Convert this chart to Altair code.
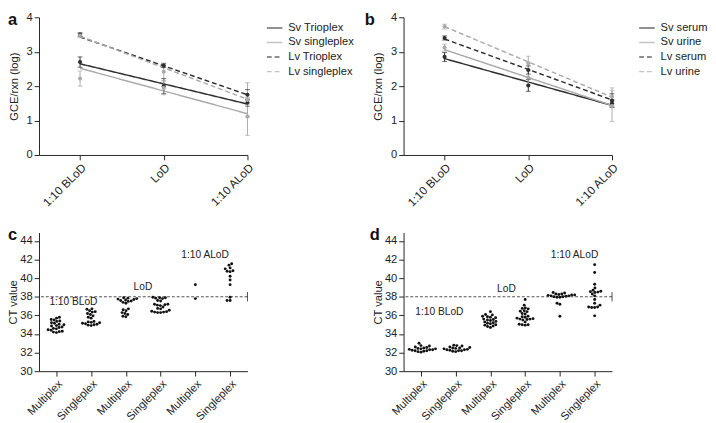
import json
import math
import altair as alt
import pandas as pd

# ---------------- data ----------------
TOP_CATS = ["1:10 BLoD", "LoD", "1:10 ALoD"]
BOT_CATS = ["Multiplex", "Singleplex", "Multiplex", "Singleplex", "Multiplex", "Singleplex"]

DARK = "#2e2e2e"
LIGHT = "#aaaaaa"

# panel a
A_SERIES = ["Sv Trioplex", "Sv singleplex", "Lv Trioplex", "Lv singleplex"]
A_LINE_START = [2.65, 2.52, 3.43, 3.45]
A_LINE_END = [1.48, 1.20, 1.75, 1.62]
A_MEANS = [[2.70, 2.00, 1.52], [2.22, 1.95, 1.12], [3.50, 2.60, 1.75], [3.47, 2.42, 1.60]]
A_ERRS = [[0.15, 0.22, 0.10], [0.22, 0.20, 0.55], [0.05, 0.06, 0.15], [0.06, 0.25, 0.50]]

# panel b
B_SERIES = ["Sv serum", "Sv urine", "Lv serum", "Lv urine"]
B_LINE_START = [2.80, 3.06, 3.37, 3.73]
B_LINE_END = [1.44, 1.44, 1.60, 1.68]
B_MEANS = [[2.85, 2.02, 1.50], [3.12, 2.25, 1.42], [3.40, 2.47, 1.58], [3.73, 2.67, 1.70]]
B_ERRS = [[0.13, 0.17, 0.10], [0.10, 0.20, 0.45], [0.06, 0.12, 0.20], [0.07, 0.20, 0.25]]

SERIES_COLORS = [DARK, LIGHT, DARK, LIGHT]
SERIES_DASH = [[1, 0], [1, 0], [5, 3], [5, 3]]

# panel c (CT values per group)
C_VALUES = [
    [35.8, 35.7, 35.55, 35.5, 35.4, 35.35, 35.2, 35.15, 35.05, 35.0, 34.9, 34.85,
     34.75, 34.7, 34.6, 34.55, 34.45, 34.4, 34.3, 34.25, 34.2, 34.15],
    [36.7, 36.65, 36.5, 36.4, 36.35, 36.2, 36.1, 35.95, 35.8, 35.7, 35.35, 35.3,
     35.2, 35.15, 35.05, 35.0, 34.95, 34.9, 35.1, 35.25],
    [37.9, 37.85, 37.8, 37.75, 37.7, 37.65, 37.6, 37.55, 37.5, 37.4, 37.3,
     36.7, 36.6, 36.5, 36.3, 36.2, 36.1, 35.9, 35.85],
    [37.95, 37.9, 37.9, 37.85, 37.8, 37.6, 37.55, 37.2, 37.2, 37.15, 37.1, 37.05, 36.9,
     36.75, 36.7, 36.55, 36.45, 36.4, 36.35, 36.35, 36.3, 36.3],
    [39.3, 37.8],
    [41.55, 41.4, 41.1, 41.0, 40.8, 40.75, 40.7, 40.2, 39.8, 39.3, 37.95, 37.6, 37.6],
]
# panel d
D_VALUES = [
    [33.0, 32.75, 32.7, 32.6, 32.55, 32.5, 32.45, 32.4, 32.35, 32.3, 32.25, 32.2,
     32.15, 32.1, 32.05, 32.4, 32.3, 32.2],
    [32.8, 32.75, 32.7, 32.6, 32.55, 32.5, 32.45, 32.4, 32.35, 32.3, 32.25, 32.2,
     32.15, 32.1, 32.5, 32.3, 32.2],
    [36.4, 36.1, 36.05, 35.9, 35.85, 35.8, 35.75, 35.6, 35.55, 35.5, 35.45, 35.35, 35.3,
     35.2, 35.15, 35.1, 35.0, 34.95, 34.85, 34.8, 34.7],
    [37.7, 37.1, 36.8, 36.75, 36.7, 36.5, 36.45, 36.4, 36.2, 36.15, 35.9, 35.85, 35.8,
     35.7, 35.65, 35.6, 35.6, 35.55, 35.5, 35.3, 35.05, 35.0, 34.95, 35.0],
    [38.45, 38.4, 38.3, 38.25, 38.2, 38.15, 38.1, 38.05, 38.0, 37.95, 37.95,
     38.0, 38.1, 38.2, 38.3, 37.3, 37.2, 35.9],
    [41.45, 40.6, 39.35, 38.95, 38.7, 38.6, 38.55, 38.5, 38.45, 38.3, 38.1, 37.7, 37.3,
     37.1, 36.9, 36.85, 36.85, 36.9, 35.95],
]
CUTOFF = 38.0
CUTOFF_TICK = [37.5, 38.5]

C_LABELS = ["1:10 BLoD", "LoD", "1:10 ALoD"]
C_LABEL_X = [0.49, 2.49, 4.28]
C_LABEL_Y = [37.4, 39.0, 42.5]
D_LABEL_X = [0.53, 2.46, 4.42]
D_LABEL_Y = [36.3, 38.8, 42.5]

# ---------------- layout constants ----------------
W = 215
H_TOP = 142
H_BOT = 143
FONT = "Liberation Sans"
TXT = "#222222"

top_x_scale = alt.Scale(domain=[-0.49, 2], nice=False, zero=False)
top_y_scale = alt.Scale(domain=[0, 4], nice=False, zero=False)
bot_x_scale = alt.Scale(domain=[-0.5, 5.5], nice=False, zero=False)
bot_y_scale = alt.Scale(domain=[30, 44.9], nice=False, zero=False)

top_x_axis = alt.Axis(values=[0, 1, 2], title=None, labelAngle=-45, labelFlush=False,
                      labelOverlap=False, labelFontSize=12,
                      labelExpr=json.dumps(TOP_CATS) + "[datum.value]")
top_y_axis = alt.Axis(values=[0, 1, 2, 3, 4], title="GCE/rxn (log)", titlePadding=7,
                      labelFlush=False, labelOverlap=False)
bot_x_axis = alt.Axis(values=[0, 1, 2, 3, 4, 5], title=None, labelAngle=-45, labelFlush=False,
                      labelOverlap=False, labelFontSize=11.5,
                      labelExpr=json.dumps(BOT_CATS) + "[datum.value]")
bot_y_axis = alt.Axis(values=list(range(30, 45, 2)), title="CT value", titlePadding=1,
                      labelFlush=False, labelOverlap=False)


def letter(ch, dx, dy):
    return alt.Chart(pd.DataFrame({"t": [ch]})).mark_text(
        fontSize=17, fontWeight="bold", align="left", baseline="top", color="#111", font=FONT
    ).encode(text="t:N", x=alt.value(dx), y=alt.value(dy))


def top_panel(series, ls, le, means, errs, ch, ldx, lgx, lgy):
    lines = []
    for s, a, b in zip(series, ls, le):
        lines.append({"series": s, "x": 0, "y": a})
        lines.append({"series": s, "x": 2, "y": b})
    ldf = pd.DataFrame(lines)
    pts = []
    for s, col, m, e in zip(series, SERIES_COLORS, means, errs):
        for i in range(3):
            pts.append({"series": s, "x": i, "y": m[i], "lo": m[i] - e[i], "hi": m[i] + e[i], "col": col})
    pdf = pd.DataFrame(pts)

    X = lambda f: alt.X(f, scale=top_x_scale, axis=top_x_axis)
    Y = lambda f: alt.Y(f, scale=top_y_scale, axis=top_y_axis)

    line = alt.Chart(ldf).mark_line(strokeWidth=1.5).encode(
        x=X("x:Q"), y=Y("y:Q"),
        color=alt.Color("series:N", scale=alt.Scale(domain=series, range=SERIES_COLORS),
                        legend=alt.Legend(title=None, orient="none", legendX=lgx, legendY=lgy)),
        strokeDash=alt.StrokeDash("series:N", scale=alt.Scale(domain=series, range=SERIES_DASH),
                                  legend=alt.Legend(title=None, orient="none", legendX=lgx, legendY=lgy)),
    )
    bars = alt.Chart(pdf).mark_rule(strokeWidth=1).encode(
        x=X("x:Q"), y=Y("lo:Q"), y2="hi:Q", color=alt.Color("col:N", scale=None))
    cap_hi = alt.Chart(pdf).mark_tick(orient="horizontal", size=5, thickness=1).encode(
        x=X("x:Q"), y=Y("hi:Q"), color=alt.Color("col:N", scale=None))
    cap_lo = alt.Chart(pdf).mark_tick(orient="horizontal", size=5, thickness=1).encode(
        x=X("x:Q"), y=Y("lo:Q"), color=alt.Color("col:N", scale=None))
    dots = alt.Chart(pdf).mark_circle(size=18, opacity=1).encode(
        x=X("x:Q"), y=Y("y:Q"), color=alt.Color("col:N", scale=None))
    return alt.layer(line, bars, cap_hi, cap_lo, dots, letter(ch, ldx, -5)).properties(
        width=W, height=H_TOP)


STEP = W / 6.0
YPX = H_BOT / (44.9 - 30)
DIAM = 3.1


def swarm(vals):
    placed = []
    res = [0.0] * len(vals)
    for i in sorted(range(len(vals)), key=lambda k: vals[k]):
        y = vals[i] * YPX
        near = [(px, py) for px, py in placed if abs(py - y) < DIAM]
        cands = [0.0]
        for px, py in near:
            dx = math.sqrt(DIAM * DIAM - (py - y) ** 2)
            cands += [px + dx, px - dx]
        cands.sort(key=lambda c: (abs(c), c))
        chosen = cands[0]
        for c in cands:
            if all((c - px) ** 2 + (y - py) ** 2 >= DIAM * DIAM - 1e-6 for px, py in near):
                chosen = c
                break
        placed.append((chosen, y))
        res[i] = chosen
    return res


def bot_panel(groups, lx, ly, ch, ldx):
    rows = []
    for g, vals in enumerate(groups):
        offs = swarm(vals)
        for v, o in zip(vals, offs):
            rows.append({"x": g + o / STEP, "y": v})
    df = pd.DataFrame(rows)
    X = lambda f: alt.X(f, scale=bot_x_scale, axis=bot_x_axis)
    Y = lambda f: alt.Y(f, scale=bot_y_scale, axis=bot_y_axis)
    dots = alt.Chart(df).mark_circle(size=9, opacity=1, color="#111").encode(x=X("x:Q"), y=Y("y:Q"))
    cut = alt.Chart(pd.DataFrame({"y": [CUTOFF]})).mark_rule(
        strokeDash=[3, 2], strokeWidth=0.8, color="#222").encode(y=Y("y:Q"))
    endtick = alt.Chart(pd.DataFrame({"x": [5.5], "lo": [CUTOFF_TICK[0]], "hi": [CUTOFF_TICK[1]]})).mark_rule(
        strokeWidth=0.8, color="#222").encode(x=X("x:Q"), y=Y("lo:Q"), y2="hi:Q")
    ann = alt.Chart(pd.DataFrame({"t": C_LABELS, "x": lx, "y": ly})).mark_text(
        fontSize=10.5, color=TXT, font=FONT).encode(x=X("x:Q"), y=Y("y:Q"), text="t:N")
    return alt.layer(cut, endtick, dots, ann, letter(ch, ldx, -5)).properties(width=W, height=H_BOT)


pa = top_panel(A_SERIES, A_LINE_START, A_LINE_END, A_MEANS, A_ERRS, "a", -32, 234, 2)
pb = top_panel(B_SERIES, B_LINE_START, B_LINE_END, B_MEANS, B_ERRS, "b", -40, 242, 2)
pc = bot_panel(C_VALUES, C_LABEL_X, C_LABEL_Y, "c", -32)
pd_ = bot_panel(D_VALUES, D_LABEL_X, D_LABEL_Y, "d", -35)

chart = alt.concat(pa, pb, pc, pd_, columns=2, spacing={"row": 80, "column": 161},
                   bounds="flush",
                   padding={"top": -3, "left": 0, "right": 0, "bottom": 0}).resolve_scale(
    color="independent", strokeDash="independent"
).configure_view(stroke=None).configure_axis(
    labelFont=FONT, titleFont=FONT, labelFontSize=11.5, titleFontSize=11.5,
    titleFontWeight="normal", labelColor=TXT, titleColor=TXT, domainColor="#222",
    tickColor="#222", grid=False, tickSize=5, labelPadding=2, domainWidth=1, tickWidth=1
).configure_legend(
    labelFont=FONT, labelFontSize=11.5, labelColor=TXT, symbolType="stroke",
    symbolStrokeWidth=1.5, symbolSize=256, rowPadding=0, padding=0, labelOffset=5
)

chart.save("out.html", embed_options={"renderer": "svg", "actions": False})
